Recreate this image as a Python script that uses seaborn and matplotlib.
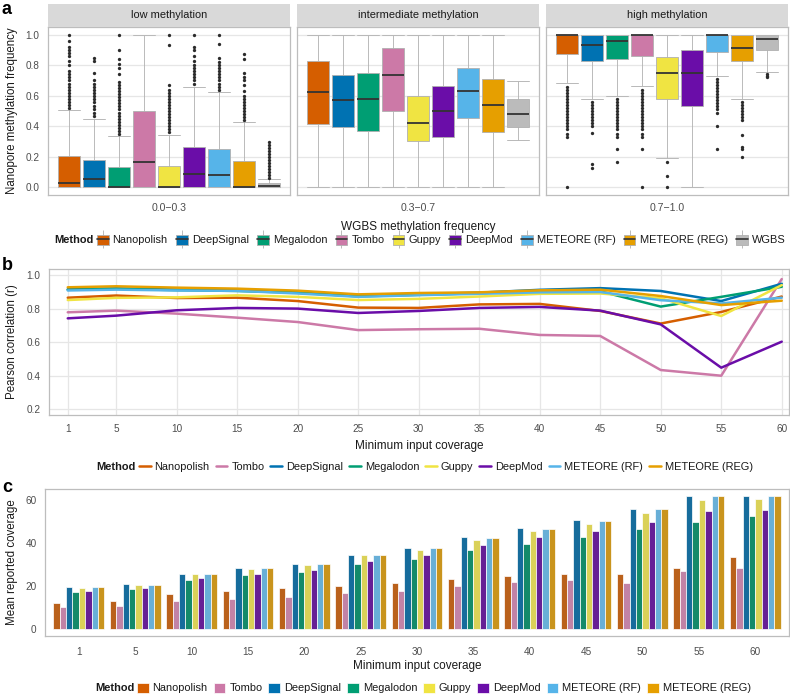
import numpy as np
import pandas as pd
import matplotlib
matplotlib.use("Agg")
import matplotlib.pyplot as plt
import seaborn as sns
from matplotlib.patches import Patch
from matplotlib.lines import Line2D

# ---------------- data ----------------
methods_a = ["Nanopolish", "DeepSignal", "Megalodon", "Tombo", "Guppy",
             "DeepMod", "METEORE (RF)", "METEORE (REG)", "WGBS"]
methods_bc = ["Nanopolish", "Tombo", "DeepSignal", "Megalodon", "Guppy",
              "DeepMod", "METEORE (RF)", "METEORE (REG)"]
colors = {
    "Nanopolish": "#D55E00", "DeepSignal": "#0072B2", "Megalodon": "#009E73",
    "Tombo": "#CC79A7", "Guppy": "#F0E442", "DeepMod": "#6A0DA8",
    "METEORE (RF)": "#56B4E9", "METEORE (REG)": "#E69F00", "WGBS": "#BBBBBB",
}

facet_titles = ["low methylation", "intermediate methylation", "high methylation"]
wgbs_bins = ["0.0\u22120.3", "0.3\u22120.7", "0.7\u22121.0"]

# box statistics, per facet, in methods_a order
low_q1 = [0, 0, 0, 0, 0, 0, 0, 0, 0]
low_med = [0.028, 0.057, 0.003, 0.166, 0.003, 0.087, 0.079, 0.003, 0.007]
low_q3 = [0.203, 0.18, 0.133, 0.498, 0.142, 0.264, 0.249, 0.172, 0.026]
low_lo = [0, 0, 0, 0, 0, 0, 0, 0, 0]
low_hi = [0.504, 0.45, 0.335, 1.0, 0.345, 0.66, 0.622, 0.428, 0.055]
low_fliers = [
    [0.52, 0.54, 0.56, 0.58, 0.60, 0.62, 0.64, 0.66, 0.68, 0.70, 0.72, 0.74, 0.76, 0.80, 0.83, 0.86, 0.88, 0.90, 0.92, 0.96, 1.0],
    [0.47, 0.49, 0.51, 0.53, 0.56, 0.58, 0.60, 0.62, 0.64, 0.66, 0.68, 0.70, 0.75, 0.83, 0.85],
    [0.35, 0.37, 0.39, 0.41, 0.43, 0.45, 0.47, 0.49, 0.51, 0.53, 0.55, 0.57, 0.59, 0.61, 0.63, 0.65, 0.67, 0.69, 0.74, 0.78, 0.81, 0.84, 0.90, 1.0],
    [],
    [0.36, 0.38, 0.40, 0.42, 0.44, 0.46, 0.48, 0.50, 0.52, 0.54, 0.56, 0.58, 0.60, 0.62, 0.64, 0.67, 0.93, 1.0],
    [0.68, 0.70, 0.72, 0.74, 0.76, 0.78, 0.80, 0.83, 0.86, 0.90, 0.92, 1.0],
    [0.64, 0.66, 0.68, 0.70, 0.72, 0.74, 0.76, 0.78, 0.80, 0.82, 0.85, 0.94, 1.0],
    [0.44, 0.46, 0.48, 0.50, 0.52, 0.54, 0.56, 0.58, 0.60, 0.63, 0.67, 0.70, 0.72, 0.75, 0.84, 0.87],
    [0.06, 0.08, 0.10, 0.12, 0.14, 0.16, 0.18, 0.20, 0.22, 0.24, 0.26, 0.28, 0.30],
]

mid_q1 = [0.417, 0.393, 0.367, 0.498, 0.303, 0.332, 0.456, 0.36, 0.395]
mid_med = [0.624, 0.572, 0.579, 0.738, 0.424, 0.5, 0.631, 0.541, 0.483]
mid_q3 = [0.83, 0.734, 0.749, 0.91, 0.598, 0.666, 0.782, 0.712, 0.58]
mid_lo = [0, 0, 0, 0, 0, 0, 0, 0, 0.308]
mid_hi = [1, 1, 1, 1, 1, 1, 1, 1, 0.699]
mid_fliers = [[], [], [], [], [], [], [], [], []]

high_q1 = [0.876, 0.83, 0.838, 0.86, 0.58, 0.53, 0.886, 0.828, 0.897]
high_med = [1.0, 0.934, 0.958, 1.0, 0.749, 0.751, 1.0, 0.915, 0.97]
high_q3 = [1.0, 1.0, 1.0, 1.0, 0.853, 0.902, 1.0, 1.0, 1.0]
high_lo = [0.686, 0.58, 0.60, 0.666, 0.19, 0.0, 0.727, 0.58, 0.753]
high_hi = [1, 1, 1, 1, 1, 1, 1, 1, 1]
high_fliers = [
    [0.0, 0.33, 0.35, 0.38, 0.40, 0.42, 0.44, 0.46, 0.48, 0.50, 0.52, 0.54, 0.56, 0.58, 0.60, 0.62, 0.64, 0.66],
    [0.13, 0.155, 0.356, 0.40, 0.42, 0.44, 0.46, 0.48, 0.50, 0.52, 0.54, 0.56],
    [0.164, 0.25, 0.33, 0.35, 0.38, 0.40, 0.42, 0.44, 0.46, 0.48, 0.50, 0.52, 0.54, 0.56, 0.58],
    [0.0, 0.25, 0.33, 0.35, 0.38, 0.40, 0.42, 0.44, 0.46, 0.48, 0.50, 0.52, 0.54, 0.56, 0.58, 0.60, 0.62, 0.64],
    [0.0, 0.074, 0.164],
    [],
    [0.25, 0.40, 0.49, 0.51, 0.53, 0.55, 0.57, 0.59, 0.61, 0.63, 0.65, 0.67, 0.69, 0.71],
    [0.20, 0.25, 0.264, 0.34, 0.44, 0.46, 0.48, 0.50, 0.52, 0.54, 0.56],
    [0.72, 0.73, 0.74],
]

# panel b: Pearson r vs minimum coverage
coverage = [1, 5, 10, 15, 20, 25, 30, 35, 40, 45, 50, 55, 60]
r_nanopolish = [0.865, 0.878, 0.863, 0.865, 0.845, 0.806, 0.804, 0.825, 0.828, 0.786, 0.711, 0.780, 0.872]
r_tombo = [0.778, 0.788, 0.770, 0.746, 0.720, 0.672, 0.677, 0.680, 0.643, 0.637, 0.434, 0.400, 0.976]
r_deepsignal = [0.915, 0.920, 0.913, 0.910, 0.897, 0.876, 0.886, 0.895, 0.912, 0.922, 0.905, 0.845, 0.948]
r_megalodon = [0.912, 0.918, 0.910, 0.905, 0.895, 0.873, 0.882, 0.892, 0.905, 0.903, 0.812, 0.870, 0.930]
r_guppy = [0.851, 0.864, 0.867, 0.879, 0.870, 0.851, 0.858, 0.872, 0.888, 0.890, 0.862, 0.756, 0.940]
r_deepmod = [0.742, 0.758, 0.790, 0.804, 0.800, 0.774, 0.786, 0.804, 0.810, 0.788, 0.706, 0.448, 0.603]
r_rf = [0.908, 0.913, 0.908, 0.906, 0.890, 0.870, 0.880, 0.888, 0.897, 0.899, 0.850, 0.831, 0.865]
r_reg = [0.927, 0.933, 0.925, 0.919, 0.907, 0.885, 0.893, 0.897, 0.909, 0.913, 0.875, 0.821, 0.847]

# panel c: mean reported coverage
cov_nanopolish = [12.3, 12.9, 16.2, 17.5, 18.9, 20.2, 21.2, 23.2, 24.8, 25.4, 25.4, 28.2, 33.4]
cov_tombo = [10.2, 10.8, 12.9, 13.8, 14.9, 16.6, 17.8, 20.2, 21.8, 22.6, 21.2, 27.2, 28.2]
cov_deepsignal = [19.4, 20.8, 25.8, 28.2, 30.0, 34.5, 37.5, 42.5, 46.9, 50.5, 55.5, 61.8, 61.8]
cov_megalodon = [17.4, 18.5, 22.9, 24.9, 26.5, 30.0, 32.3, 36.5, 39.5, 42.5, 46.2, 49.8, 52.6]
cov_guppy = [18.9, 20.3, 25.4, 27.7, 29.7, 34.2, 36.8, 41.5, 45.5, 48.8, 53.7, 60.0, 60.5]
cov_deepmod = [17.7, 18.9, 23.8, 25.7, 27.5, 31.8, 34.6, 39.2, 42.8, 45.7, 49.7, 54.9, 55.1]
cov_rf = [19.4, 20.6, 25.8, 28.2, 30.0, 34.4, 37.4, 42.3, 46.6, 50.3, 55.5, 61.8, 61.8]
cov_reg = [19.4, 20.6, 25.8, 28.2, 30.0, 34.5, 37.4, 42.3, 46.6, 50.3, 55.5, 61.8, 61.8]

r_series = [r_nanopolish, r_tombo, r_deepsignal, r_megalodon, r_guppy, r_deepmod, r_rf, r_reg]
cov_series = [cov_nanopolish, cov_tombo, cov_deepsignal, cov_megalodon, cov_guppy, cov_deepmod, cov_rf, cov_reg]

df_b = pd.DataFrame([(m, c, v) for m, vals in zip(methods_bc, r_series) for c, v in zip(coverage, vals)],
                    columns=["Method", "coverage", "r"])
df_c = pd.DataFrame([(m, str(c), v) for m, vals in zip(methods_bc, cov_series) for c, v in zip(coverage, vals)],
                    columns=["Method", "coverage", "mean"])

# ---------------- style ----------------
sns.set_theme(style="white")
plt.rcParams["font.family"] = ["Liberation Sans", "DejaVu Sans"]

W, H = 790, 695
fig = plt.figure(figsize=(W / 100, H / 100), dpi=100)

GRID = "#E6E6E6"
BORDER = "#BDBDBD"
TICKTXT = "#4D4D4D"
TXT = "#1A1A1A"
LEG = dict(frameon=False, fontsize=7.9, handlelength=1.05, handletextpad=0.37,
           borderpad=0, borderaxespad=0, labelcolor=TXT)


def px_axes(x0, y0, x1, y1):
    return fig.add_axes([x0 / W, 1 - y1 / H, (x1 - x0) / W, (y1 - y0) / H])


def fy(y):
    return 1 - y / H


def style_axes(ax, xpad=3.2):
    for s in ax.spines.values():
        s.set_visible(True)
        s.set_color(BORDER)
        s.set_linewidth(0.9)
    ax.tick_params(axis="both", length=3, width=0.6, color=BORDER,
                   labelcolor=TICKTXT, labelsize=7.2)
    ax.tick_params(axis="x", pad=xpad)
    ax.tick_params(axis="y", pad=3)
    ax.set_xlabel("")
    ax.set_ylabel("")


# ---------------- panel a ----------------
facets = [
    (low_q1, low_med, low_q3, low_lo, low_hi, low_fliers),
    (mid_q1, mid_med, mid_q3, mid_lo, mid_hi, mid_fliers),
    (high_q1, high_med, high_q3, high_lo, high_hi, high_fliers),
]
step = 1.2 * 25 / 242
bw = 1.2 * 22.5 / 242
for k, (q1, med, q3, lo, hi, fl) in enumerate(facets):
    x0 = 48 + k * 249
    ax = px_axes(x0, 27, x0 + 242, 195)
    stats = [dict(q1=q1[i], med=med[i], q3=q3[i], whislo=lo[i], whishi=hi[i], fliers=fl[i])
             for i in range(len(methods_a))]
    pos = [1 + (i - 4) * step for i in range(len(methods_a))]
    bp = ax.bxp(stats, positions=pos, widths=bw, patch_artist=True, showcaps=True,
                capwidths=bw, manage_ticks=False,
                boxprops=dict(edgecolor="#B0B0B0", linewidth=0.6),
                whiskerprops=dict(color="#B0B0B0", linewidth=0.6),
                capprops=dict(color="#B8B8B8", linewidth=0.7),
                medianprops=dict(color="#333333", linewidth=1.3),
                flierprops=dict(marker="o", markersize=2.4, markerfacecolor="#2B2B2B",
                                markeredgecolor="none", linestyle="none"))
    for patch, m in zip(bp["boxes"], methods_a):
        patch.set_facecolor(colors[m])
    ax.set_xlim(0.4, 1.6)
    ax.set_ylim(-0.05, 1.05)
    ax.set_yticks([0, 0.2, 0.4, 0.6, 0.8, 1.0])
    ax.yaxis.grid(True, color=GRID, linewidth=0.9)
    ax.set_axisbelow(True)
    ax.set_xticks([1])
    ax.set_xticklabels([wgbs_bins[k]], fontsize=7.6)
    style_axes(ax, xpad=3.0)
    ax.tick_params(axis="x", labelsize=7.6)
    if k == 0:
        ax.set_yticklabels(["0.0", "0.2", "0.4", "0.6", "0.8", "1.0"])
    else:
        ax.tick_params(axis="y", left=False, labelleft=False)
    # strip
    st = px_axes(x0, 4, x0 + 242, 27)
    st.set_facecolor("#D9D9D9")
    st.set_xticks([])
    st.set_yticks([])
    for s in st.spines.values():
        s.set_visible(False)
    st.text(0.5, 0.5, facet_titles[k], ha="center", va="center", fontsize=7.9, color=TXT,
            transform=st.transAxes)

fig.text(12 / W, fy(111), "Nanopore methylation frequency", rotation=90, ha="center",
         va="center", fontsize=8.3, color=TXT)
fig.text(418 / W, fy(227), "WGBS methylation frequency", ha="center", va="center",
         fontsize=8.5, color=TXT)

# legend a (boxplot glyphs)
handles_a = []
for m in methods_a:
    whisk = Line2D([], [], color="#B0B0B0", marker="|", markersize=13, linestyle="none",
                   markeredgewidth=0.6)
    box = Patch(facecolor=colors[m], edgecolor="#B0B0B0", linewidth=0.6)
    medl = Line2D([], [], color="#333333", linewidth=1.2)
    handles_a.append((whisk, box, medl))
fig.text(54 / W, fy(240), "Method", ha="left", va="center", fontsize=7.9,
         fontweight="bold", color=TXT)
fig.legend(handles_a, methods_a, loc="center left", bbox_to_anchor=(97 / W, fy(240)),
           ncol=9, handleheight=1.05, columnspacing=0.77, **LEG)

# ---------------- panel b ----------------
axb = px_axes(49, 269, 789, 415)
pal = {m: colors[m] for m in methods_bc}
sns.lineplot(data=df_b, x="coverage", y="r", hue="Method", hue_order=methods_bc,
             palette=pal, linewidth=1.8, ax=axb, legend=False)
axb.set_xlim(-0.55, 60.6)
axb.set_ylim(0.166, 1.036)
axb.set_xticks(coverage)
axb.set_xticklabels([str(c) for c in coverage])
axb.set_yticks([0.2, 0.4, 0.6, 0.8, 1.0])
axb.set_yticklabels(["0.2", "0.4", "0.6", "0.8", "1.0"])
axb.grid(True, color=GRID, linewidth=0.9)
axb.set_axisbelow(True)
style_axes(axb, xpad=3.6)
fig.text(12 / W, fy(342), "Pearson correlation (r)", rotation=90, ha="center",
         va="center", fontsize=8.3, color=TXT)
fig.text(419 / W, fy(446), "Minimum input coverage", ha="center", va="center",
         fontsize=8.5, color=TXT)

handles_b = [Line2D([], [], color=colors[m], linewidth=1.8) for m in methods_bc]
fig.text(96 / W, fy(467), "Method", ha="left", va="center", fontsize=7.9,
         fontweight="bold", color=TXT)
fig.legend(handles_b, methods_bc, loc="center left", bbox_to_anchor=(139 / W, fy(467)),
           ncol=8, columnspacing=0.55, **LEG)

# ---------------- panel c ----------------
axc = px_axes(45, 489, 789, 636)
sns.barplot(data=df_c, x="coverage", y="mean", hue="Method", hue_order=methods_bc,
            palette=pal, width=0.9, edgecolor="white", linewidth=0.5, ax=axc,
            legend=False, errorbar=None)
axc.set_xlim(-0.6, 12.6)
axc.set_ylim(-3.09, 64.9)
axc.set_yticks([0, 20, 40, 60])
axc.set_yticklabels(["0", "20", "40", "60"])
axc.grid(False)
style_axes(axc, xpad=4.6)
fig.text(12 / W, fy(562), "Mean reported coverage", rotation=90, ha="center",
         va="center", fontsize=8.3, color=TXT)
fig.text(417 / W, fy(666), "Minimum input coverage", ha="center", va="center",
         fontsize=8.5, color=TXT)

handles_c = [Patch(facecolor=colors[m], edgecolor="white", linewidth=0.5) for m in methods_bc]
fig.text(95 / W, fy(688), "Method", ha="left", va="center", fontsize=7.9,
         fontweight="bold", color=TXT)
fig.legend(handles_c, methods_bc, loc="center left", bbox_to_anchor=(137 / W, fy(688)),
           ncol=8, handleheight=1.05, columnspacing=0.55, **LEG)

# panel letters
for letter, y in [("a", 10), ("b", 265), ("c", 487)]:
    fig.text(2 / W, fy(y), letter, ha="left", va="center", fontsize=13,
             fontweight="bold", color="black")

fig.savefig("out.png", dpi=100)
